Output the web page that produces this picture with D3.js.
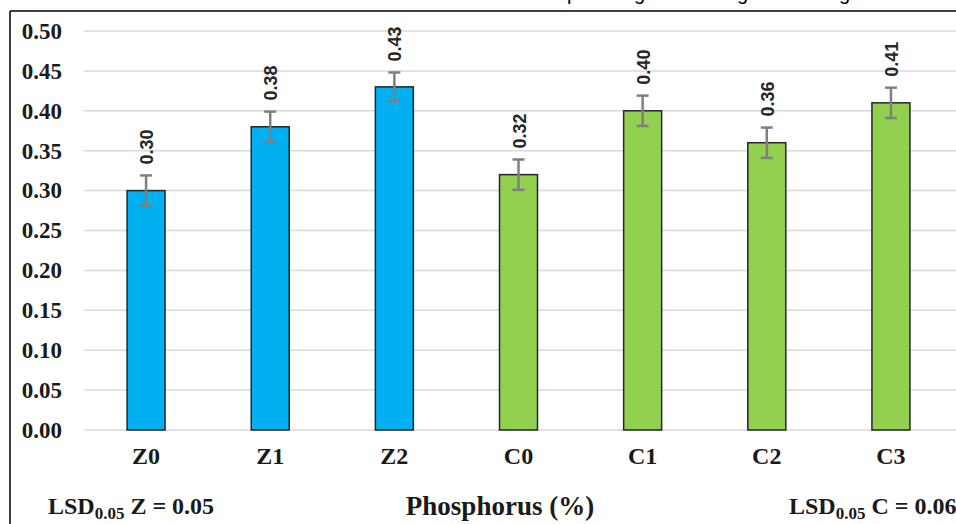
<!DOCTYPE html>
<html>
<head>
<meta charset="utf-8">
<script src="https://cdn.jsdelivr.net/npm/d3@7/dist/d3.min.js"></script>
<style>
  html, body { margin: 0; padding: 0; background: #fff; }
  svg { display: block; }
</style>
</head>
<body>
<div id="chart"></div>
<script>
// Phosphorus (%) by treatment
const categories = ['Z0', 'Z1', 'Z2', 'C0', 'C1', 'C2', 'C3'];
const values = [0.30, 0.38, 0.43, 0.32, 0.40, 0.36, 0.41];
const errors = [0.019, 0.019, 0.018, 0.019, 0.019, 0.019, 0.019];
const groups = ['Z', 'Z', 'Z', 'C', 'C', 'C', 'C'];
const yTicks = [0, 0.05, 0.10, 0.15, 0.20, 0.25, 0.30, 0.35, 0.40, 0.45, 0.50];

const width = 956, height = 524;
const colors = { Z: '#00b0f0', C: '#92d050' };
const serif = "'Liberation Serif', 'Times New Roman', serif";

const svg = d3.select('#chart')
    .append('svg')
    .attr('width', width)
    .attr('height', height);

// frame of the cropped figure
svg.append('line')
    .attr('x1', 10).attr('x2', width).attr('y1', 11).attr('y2', 11)
    .attr('stroke', '#000').attr('stroke-width', 1.5);
svg.append('line')
    .attr('x1', 10).attr('x2', 10).attr('y1', 11).attr('y2', height)
    .attr('stroke', '#000').attr('stroke-width', 1.5);

// tails of the title line cut off above the picture
const cut = svg.append('g')
    .attr('font-family', "'Liberation Sans', Arial, sans-serif")
    .attr('font-size', 20);
[['p', 567], ['g', 634], ['g', 737], ['g', 839]].forEach(([ch, xx]) => {
    cut.append('text').attr('x', xx).attr('y', 0).text(ch);
});

const x = d3.scaleBand()
    .domain(categories)
    .range([84, 953])
    .paddingInner(0.694)
    .paddingOuter(0.347);

const y = d3.scaleLinear()
    .domain([0, 0.5])
    .range([430, 31]);

// gridlines
svg.append('g')
    .selectAll('line')
    .data(yTicks)
    .join('line')
    .attr('x1', 84).attr('x2', width)
    .attr('y1', d => y(d)).attr('y2', d => y(d))
    .attr('stroke', '#d9d9d9')
    .attr('stroke-width', 1.5);

// y axis labels
const yAxis = svg.append('g')
    .attr('transform', 'translate(62,0)')
    .call(d3.axisLeft(y).tickValues(yTicks).tickFormat(d3.format('.2f')).tickSize(0).tickPadding(0));
yAxis.select('.domain').remove();
yAxis.selectAll('text')
    .attr('font-family', serif)
    .attr('font-weight', 'bold')
    .attr('font-size', 23)
    .attr('fill', '#1a1a1a');

// bars
svg.append('g')
    .selectAll('rect')
    .data(categories)
    .join('rect')
    .attr('x', d => x(d))
    .attr('y', (d, i) => y(values[i]))
    .attr('width', x.bandwidth())
    .attr('height', (d, i) => y(0) - y(values[i]))
    .attr('fill', (d, i) => colors[groups[i]])
    .attr('stroke', '#262626')
    .attr('stroke-width', 1.5);

// error bars
const eb = svg.append('g')
    .attr('stroke', '#7f7f7f')
    .attr('stroke-width', 2.5);
categories.forEach((c, i) => {
    const cx = x(c) + x.bandwidth() / 2;
    const top = y(values[i] + errors[i]);
    const bot = y(values[i] - errors[i]);
    eb.append('line').attr('x1', cx).attr('x2', cx).attr('y1', top).attr('y2', bot);
    eb.append('line').attr('x1', cx - 6).attr('x2', cx + 6).attr('y1', top).attr('y2', top);
    eb.append('line').attr('x1', cx - 6).attr('x2', cx + 6).attr('y1', bot).attr('y2', bot);
});

// value labels (rotated)
svg.append('g')
    .selectAll('text')
    .data(categories)
    .join('text')
    .attr('transform', (d, i) => {
        const cx = x(d) + x.bandwidth() / 2 + 7;
        const ty = y(values[i] + errors[i]) - 11;
        return `translate(${cx},${ty}) rotate(-90)`;
    })
    .attr('font-family', "'Liberation Sans', Arial, sans-serif")
    .attr('font-weight', 'bold')
    .attr('font-size', 18)
    .attr('fill', '#262626')
    .text((d, i) => d3.format('.2f')(values[i]));

// x axis labels
const xAxis = svg.append('g')
    .attr('transform', 'translate(0,464)')
    .call(d3.axisBottom(x).tickSize(0).tickPadding(0));
xAxis.select('.domain').remove();
xAxis.selectAll('text')
    .attr('dy', 0)
    .attr('font-family', serif)
    .attr('font-weight', 'bold')
    .attr('font-size', 24)
    .attr('fill', '#1a1a1a');

// bottom notes
const notes = svg.append('g')
    .attr('font-family', serif)
    .attr('font-weight', 'bold')
    .attr('font-size', 24)
    .attr('fill', '#1a1a1a');

function lsd(xx, letter, val) {
    const t = notes.append('text').attr('x', xx).attr('y', 514);
    t.append('tspan').text('LSD');
    t.append('tspan').attr('font-size', 17).attr('dy', 5).text('0.05');
    t.append('tspan').attr('dy', -5).text(` ${letter} = ${val}`);
}
lsd(48, 'Z', '0.05');
lsd(789, 'C', '0.06');

notes.append('text')
    .attr('x', 500).attr('y', 515)
    .attr('text-anchor', 'middle')
    .attr('font-size', 27)
    .text('Phosphorus (%)');
</script>
</body>
</html>
